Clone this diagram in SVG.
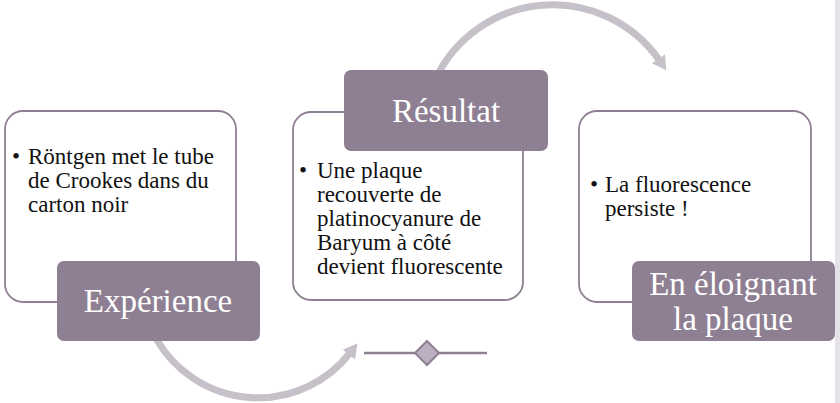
<svg xmlns="http://www.w3.org/2000/svg" width="840" height="403" viewBox="0 0 840 403">
<defs>
<style>
.card{fill:#FFFFFF;stroke:#8E7F92;stroke-width:1.8}
.tab{fill:#8E7F92;stroke:none}
.tabt{font-family:"Liberation Serif",serif;font-size:33px;fill:#FFFFFF;text-anchor:middle}
.body{font-family:"Liberation Serif",serif;font-size:23px;fill:#111111}
.arc{fill:none;stroke:#C6C0C8;stroke-width:7}
</style>
<marker id="ah" markerUnits="userSpaceOnUse" markerWidth="20" markerHeight="20" viewBox="0 0 20 20" refX="2" refY="10" orient="auto">
<path d="M0,2 L14,10 L0,18 Z" fill="#C6C0C8"/>
</marker>
</defs>
<rect x="835" y="0" width="5" height="403" fill="#E6E3E8"/>
<g id="connectors">
<path class="arc" d="M156.7,339.5 A117,117 0 0 0 350,353" marker-end="url(#ah)"/>
<path class="arc" d="M435,80 A130,130 0 0 1 659.5,60.4" marker-end="url(#ah)"/>
<g id="divider">
<line x1="364" y1="353" x2="487" y2="353" stroke="#8E7F92" stroke-width="2.5"/>
<path d="M427,341 L439,353 L427,365 L415,353 Z" fill="#BAB0BF" stroke="#8E7F92" stroke-width="2"/>
</g>
</g>
<g id="node-experience">
<rect class="card" x="5" y="111" width="231" height="191" rx="18"/>
<text class="body" x="12" y="164">•</text>
<text class="body" x="28" y="164">Röntgen met le tube</text>
<text class="body" x="28" y="188">de Crookes dans du</text>
<text class="body" x="28" y="212">carton noir</text>
<rect class="tab" x="57" y="261" width="203" height="80" rx="7"/>
<text class="tabt" x="158" y="312">Expérience</text>
</g>
<g id="node-resultat">
<rect class="card" x="293" y="112" width="230" height="188" rx="18"/>
<text class="body" x="299" y="178">•</text>
<text class="body" x="317" y="178">Une plaque</text>
<text class="body" x="317" y="202">recouverte de</text>
<text class="body" x="317" y="226">platinocyanure de</text>
<text class="body" x="317" y="250">Baryum à côté</text>
<text class="body" x="317" y="274">devient fluorescente</text>
<rect class="tab" x="344" y="70" width="204" height="81" rx="7"/>
<text class="tabt" x="446" y="122">Résultat</text>
</g>
<g id="node-eloignant">
<rect class="card" x="579" y="111" width="232" height="191" rx="18"/>
<text class="body" x="590" y="192">•</text>
<text class="body" x="605" y="192">La fluorescence</text>
<text class="body" x="605" y="216">persiste !</text>
<rect class="tab" x="632" y="261" width="203" height="80" rx="7"/>
<text class="tabt" x="733" y="295">En éloignant</text>
<text class="tabt" x="733" y="330">la plaque</text>
</g>
</svg>
